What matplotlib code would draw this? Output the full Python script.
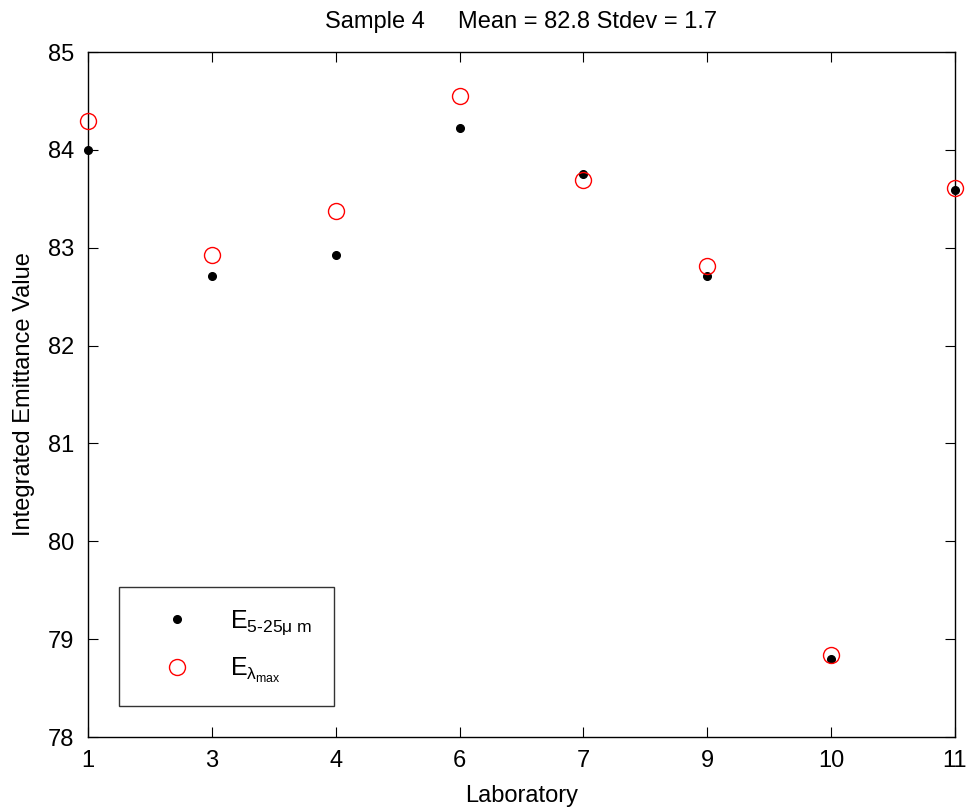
import numpy as np
import matplotlib
matplotlib.use('Agg')
import matplotlib.pyplot as plt

plt.rcParams['font.family'] = ['Liberation Sans', 'DejaVu Sans']
plt.rcParams['mathtext.fontset'] = 'custom'
plt.rcParams['mathtext.rm'] = 'Liberation Sans'
plt.rcParams['mathtext.it'] = 'Liberation Sans'

labs = ['1', '3', '4', '6', '7', '9', '10', '11']
e_band = [84.0, 82.71, 82.93, 84.22, 83.75, 82.71, 78.8, 83.59]
e_lmax = [84.30, 82.93, 83.38, 84.55, 83.69, 82.81, 78.84, 83.61]

fig = plt.figure(figsize=(9.72, 8.1), dpi=100)
ax = fig.add_axes([0.0905, 0.0901, 0.892, 0.8457])

x = np.arange(len(labs))
ax.plot(x, e_band, 'o', color='black', markersize=5.5, linestyle='none',
        clip_on=False, zorder=3, label=r'E$_{\mathrm{5\text{-}25μ\ m}}$')
ax.plot(x, e_lmax, 'o', markerfacecolor='none', markeredgecolor='red',
        markersize=11.5, markeredgewidth=1.0, linestyle='none',
        clip_on=False, zorder=3, label=r'E$_{λ_{\mathrm{max}}}$')

ax.set_xlim(0, len(labs) - 1)
ax.set_ylim(78, 85)
ax.set_xticks(x)
ax.set_xticklabels(labs)
ax.set_yticks(np.arange(78, 86))
ax.tick_params(direction='in', top=True, right=True, labelsize=17,
               length=7, width=0.8)
ax.tick_params(axis='x', pad=9)
ax.tick_params(axis='y', pad=10)
for s in ax.spines.values():
    s.set_linewidth(1.0)

ax.set_xlabel('Laboratory', fontsize=17, labelpad=10)
ax.set_ylabel('Integrated Emittance Value', fontsize=17, labelpad=9)
ax.set_title('Sample 4     Mean = 82.8 Stdev = 1.7', fontsize=17, pad=17)

leg = ax.legend(loc='lower left', bbox_to_anchor=(0.036, 0.045), fontsize=18,
                frameon=True, fancybox=False, edgecolor='black',
                borderpad=0.85, labelspacing=0.75, handlelength=2.9,
                handletextpad=0.7, borderaxespad=0)
leg.get_frame().set_linewidth(1.0)

fig.savefig('out.png', dpi=100)
